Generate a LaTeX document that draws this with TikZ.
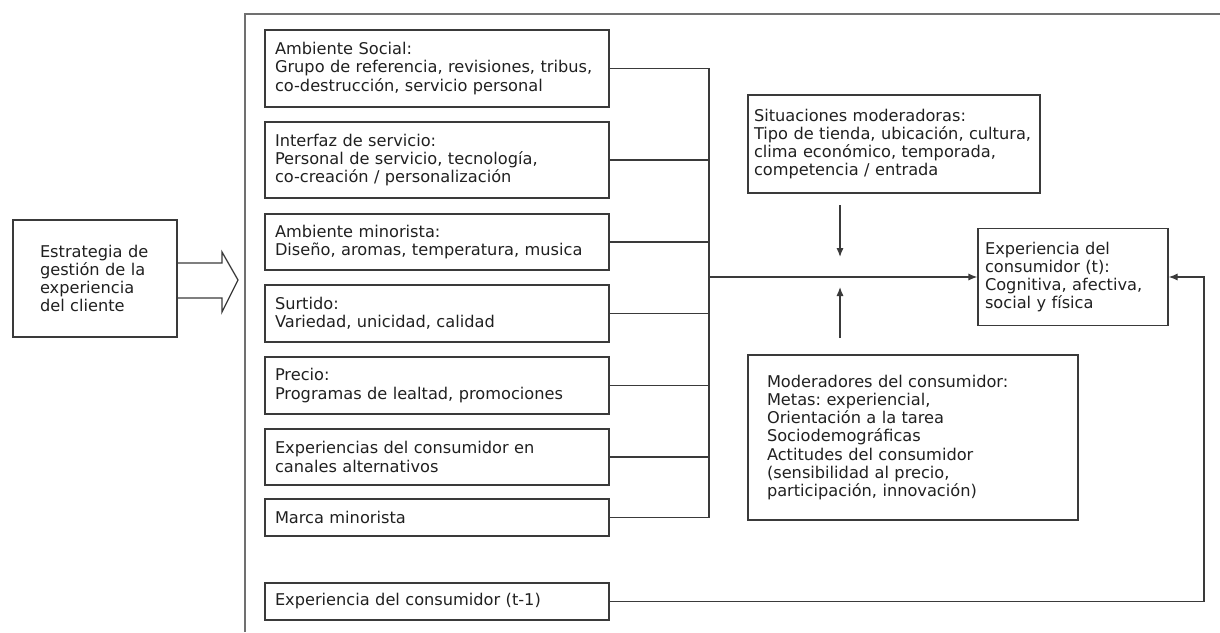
\documentclass[tikz,border=0pt]{standalone}
\usepackage{fontspec}
\setmainfont{DejaVu Sans}
\usetikzlibrary{arrows.meta}
\definecolor{ink}{HTML}{3A3A3A}
\definecolor{framec}{HTML}{707070}
\definecolor{txt}{HTML}{202020}
\frenchspacing
\begin{document}
\begin{tikzpicture}[x=0.5pt,y=-0.5pt,
  every node/.style={font=\fontsize{8.1pt}{9.15pt}\selectfont, text=txt},
  box/.style={draw=ink, line width=0.65pt, rectangle, align=left, inner ysep=0pt},
  leftbox/.style={box, inner xsep=5pt, text width=162pt},
  link/.style={draw=ink, line width=0.65pt},
  tip/.style={link, -{Latex[length=4.5pt,width=3.6pt]}}
]
\useasboundingbox (0,0) rectangle (1220,632);

% outer frame (left and top edges)
\draw[framec, line width=0.6pt] (245,632) -- (245,14) -- (1220,14);

% strategy box and block arrow
\node[box, inner xsep=13.5pt, text width=55pt, minimum height=58.5pt] (strat) at (95,278.5)
  {Estrategia de\\gestión de la\\experiencia\\del cliente};
\coordinate (shaftA) at (177,263);
\coordinate (shaftB) at (177,298);
\draw[ink, line width=0.65pt] (shaftA) -- (222,263) -- (222,252) -- (238,280)
  -- (222,312) -- (222,298) -- (shaftB);

% drivers
\node[leftbox, minimum height=38.5pt] (social) at (437,68.5)
  {Ambiente Social:\\Grupo de referencia, revisiones, tribus,\\co-destrucción, servicio personal};
\node[leftbox, minimum height=38pt] (iface) at (437,160)
  {Interfaz de servicio:\\Personal de servicio, tecnología,\\co-creación / personalización};
\node[leftbox, minimum height=28pt] (retail) at (437,242)
  {Ambiente minorista:\\Diseño, aromas, temperatura, musica};
\node[leftbox, minimum height=28.5pt] (assort) at (437,313.5)
  {Surtido:\\Variedad, unicidad, calidad};
\node[leftbox, minimum height=28.5pt] (price) at (437,385.5)
  {Precio:\\Programas de lealtad, promociones};
\node[leftbox, minimum height=28pt] (channels) at (437,457)
  {Experiencias del consumidor en\\canales alternativos};
\node[leftbox, minimum height=18.5pt] (brand) at (437,517.5)
  {Marca minorista};
\node[leftbox, minimum height=18.5pt] (prev) at (437,601.5)
  {Experiencia del consumidor (t-1)};

% outcome
\node[box, inner xsep=3.5pt, text width=88pt, minimum height=48.5pt] (exp) at (1073,277)
  {Experiencia del\\consumidor (t):\\Cognitiva, afectiva,\\social y física};

% moderators
\node[box, inner xsep=3pt, text width=140pt, minimum height=49pt] (sit) at (894,144)
  {Situaciones moderadoras:\\Tipo de tienda, ubicación, cultura,\\clima económico, temporada,\\competencia / entrada};
\node[box, inner xsep=9.5pt, text width=146pt, minimum height=82.5pt] (mod) at (913,437.5)
  {Moderadores del consumidor:\\Metas: experiencial,\\Orientación a la tarea\\Sociodemográficas\\Actitudes del consumidor\\(sensibilidad al precio,\\participación, innovación)};

% bus joining the drivers
\coordinate (bus) at (709,277);
\foreach \n in {social,iface,retail,assort,price,channels,brand}
  \draw[link] (\n.east) -| (bus);
\draw[tip] (bus) -- (exp.west);

% moderator arrows
\coordinate (downA) at (840,205);
\coordinate (downB) at (840,257);
\coordinate (upA) at (840,338);
\coordinate (upB) at (840,287);
\draw[tip] (downA) -- (downB);
\draw[tip] (upA) -- (upB);

% feedback from the previous experience
\coordinate (turn) at (1204,0);
\draw[tip] (prev.east) -- (prev.east -| turn) -- (turn |- exp.east) -- (exp.east);
\end{tikzpicture}
\end{document}
